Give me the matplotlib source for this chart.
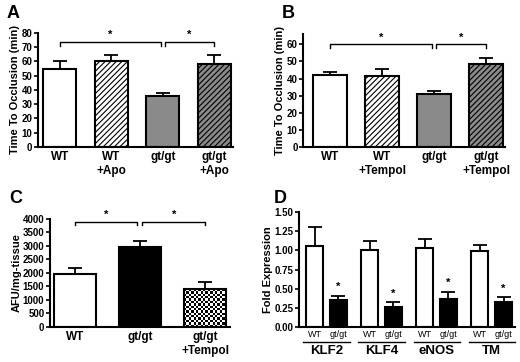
import matplotlib
matplotlib.use('Agg')
import matplotlib.pyplot as plt
import numpy as np

plt.rcParams['font.family'] = ['Liberation Sans', 'DejaVu Sans']
plt.rcParams['hatch.linewidth'] = 0.8

# panel A
a_labels = ['WT', 'WT\n+Apo', 'gt/gt', 'gt/gt\n+Apo']
a_vals = [55, 60, 36, 58.5]
a_err = [5.5, 4.2, 2.0, 6.3]
# panel B
b_labels = ['WT', 'WT\n+Tempol', 'gt/gt', 'gt/gt\n+Tempol']
b_vals = [42, 41.5, 31, 48.5]
b_err = [1.8, 4.0, 1.8, 3.5]
# panel C
c_labels = ['WT', 'gt/gt', 'gt/gt\n+Tempol']
c_vals = [1960, 2950, 1400]
c_err = [230, 250, 270]
# panel D
d_genes = ['KLF2', 'KLF4', 'eNOS', 'TM']
d_wt = [1.06, 1.01, 1.03, 0.99]
d_wt_err = [0.25, 0.11, 0.12, 0.08]
d_gt = [0.35, 0.26, 0.37, 0.33]
d_gt_err = [0.06, 0.06, 0.09, 0.06]

GREY = '#8a8a8a'
LW = 1.5


def style(ax):
    for s in ['top', 'right']:
        ax.spines[s].set_visible(False)
    for s in ['left', 'bottom']:
        ax.spines[s].set_linewidth(LW)
    ax.tick_params(axis='y', direction='out', length=3, width=1.2, labelsize=7, pad=1)
    ax.tick_params(axis='x', length=0, labelsize=8.5, pad=3)
    for t in ax.get_yticklabels() + ax.get_xticklabels():
        t.set_fontweight('bold')


def bars(ax, x, vals, errs, colors, hatches, width):
    out = []
    for xi, v, e, c, h in zip(x, vals, errs, colors, hatches):
        b = ax.bar(xi, v, width, color=c, edgecolor='black', linewidth=LW, hatch=h, zorder=2)
        ax.errorbar(xi, v, yerr=[[0], [e]], color='black', capsize=5, elinewidth=1.3,
                    capthick=1.3, zorder=1)
        out.append(b[0])
    return out


def bracket(ax, x0, x1, y, tick, star_y):
    ax.plot([x0, x0, x1, x1], [y - tick, y, y, y - tick], color='black', lw=1, clip_on=False)
    ax.text((x0 + x1) / 2, star_y, '*', ha='center', va='center', fontsize=8, fontweight='bold')


fig = plt.figure(figsize=(5.2, 3.62), dpi=100)

# ---- A
axA = fig.add_axes([0.073, 0.594, 0.375, 0.315])
x = np.arange(4)
bars(axA, x, a_vals, a_err, ['white', 'white', GREY, GREY], [None, '//////', None, '//////'], 0.64)
axA.set_xlim(-0.42, 3.36)
axA.set_ylim(0, 80)
axA.set_yticks(range(0, 81, 10))
axA.set_xticks(x)
axA.set_xticklabels(a_labels)
axA.set_ylabel('Time To Occlusion (min)', fontsize=8, fontweight='bold', labelpad=1)
bracket(axA, 0, 1.96, 73.5, 2.5, 79)
bracket(axA, 2.04, 3, 73.5, 2.5, 79)
style(axA)
fig.text(0.012, 0.985, 'A', fontsize=13, fontweight='bold', va='top')

# ---- B
axB = fig.add_axes([0.583, 0.594, 0.388, 0.312])
bars(axB, x, b_vals, b_err, ['white', 'white', GREY, GREY], [None, '//////', None, '//////'], 0.65)
axB.set_xlim(-0.52, 3.36)
axB.set_ylim(0, 66)
axB.set_yticks(range(0, 61, 10))
axB.set_xticks(x)
axB.set_xticklabels(b_labels)
axB.set_ylabel('Time To Occlusion (min)', fontsize=8, fontweight='bold', labelpad=1)
bracket(axB, 0, 1.96, 60, 2, 64)
bracket(axB, 2.04, 3, 60, 2, 64)
style(axB)
fig.text(0.541, 0.985, 'B', fontsize=13, fontweight='bold', va='top')

# ---- C
axC = fig.add_axes([0.096, 0.097, 0.346, 0.298])
xc = np.arange(3)
cb = bars(axC, xc, c_vals, c_err, ['white', 'black', 'white'], [None, None, None], 0.65)
# checkerboard fill for the last bar
p = cb[2]
nx, ny = 18, 16
checker = (np.add.outer(np.arange(ny), np.arange(nx)) % 2).astype(float)
axC.imshow(checker, cmap='gray', interpolation='nearest', aspect='auto', zorder=2.5,
           extent=[p.get_x(), p.get_x() + p.get_width(), 0, p.get_height()])
p.set_zorder(3)
p.set_facecolor('none')
axC.set_xlim(-0.38, 2.38)
axC.set_ylim(0, 4000)
axC.set_yticks(range(0, 4001, 500))
axC.set_xticks(xc)
axC.set_xticklabels(c_labels)
axC.set_ylabel('AFU/mg-tissue', fontsize=8, fontweight='bold', labelpad=1)
bracket(axC, 0, 0.96, 3880, 110, 4150)
bracket(axC, 1.04, 2, 3880, 110, 4150)
style(axC)
fig.text(0.018, 0.475, 'C', fontsize=13, fontweight='bold', va='top')

# ---- D
axD = fig.add_axes([0.575, 0.097, 0.415, 0.317])
xd = np.arange(4)
off = 0.215
w = 0.31
bars(axD, xd - off, d_wt, d_wt_err, ['white'] * 4, [None] * 4, w)
bars(axD, xd + off, d_gt, d_gt_err, ['black'] * 4, [None] * 4, w)
for xi, v, e in zip(xd + off, d_gt, d_gt_err):
    axD.text(xi, v + e + 0.11, '*', ha='center', va='center', fontsize=8, fontweight='bold')
axD.set_xlim(-0.5, 3.42)
axD.set_ylim(0, 1.5)
axD.set_yticks(np.arange(0, 1.51, 0.25))
axD.set_yticklabels(['%.2f' % v for v in np.arange(0, 1.51, 0.25)])
axD.set_xticks([])
axD.set_ylabel('Fold Expression', fontsize=8, fontweight='bold', labelpad=1)
trans = axD.get_xaxis_transform()
for xi, g in zip(xd, d_genes):
    axD.text(xi - off, -0.065, 'WT', transform=trans, ha='center', va='center', fontsize=6.5)
    axD.text(xi + off, -0.065, 'gt/gt', transform=trans, ha='center', va='center', fontsize=6.5)
    axD.plot([xi - 0.42, xi + 0.42], [-0.13, -0.13], transform=trans, color='black',
             lw=1, clip_on=False)
    axD.text(xi, -0.21, g, transform=trans, ha='center', va='center', fontsize=9.5,
             fontweight='bold')
style(axD)
fig.text(0.527, 0.475, 'D', fontsize=13, fontweight='bold', va='top')

fig.savefig('out.png', dpi=100)
